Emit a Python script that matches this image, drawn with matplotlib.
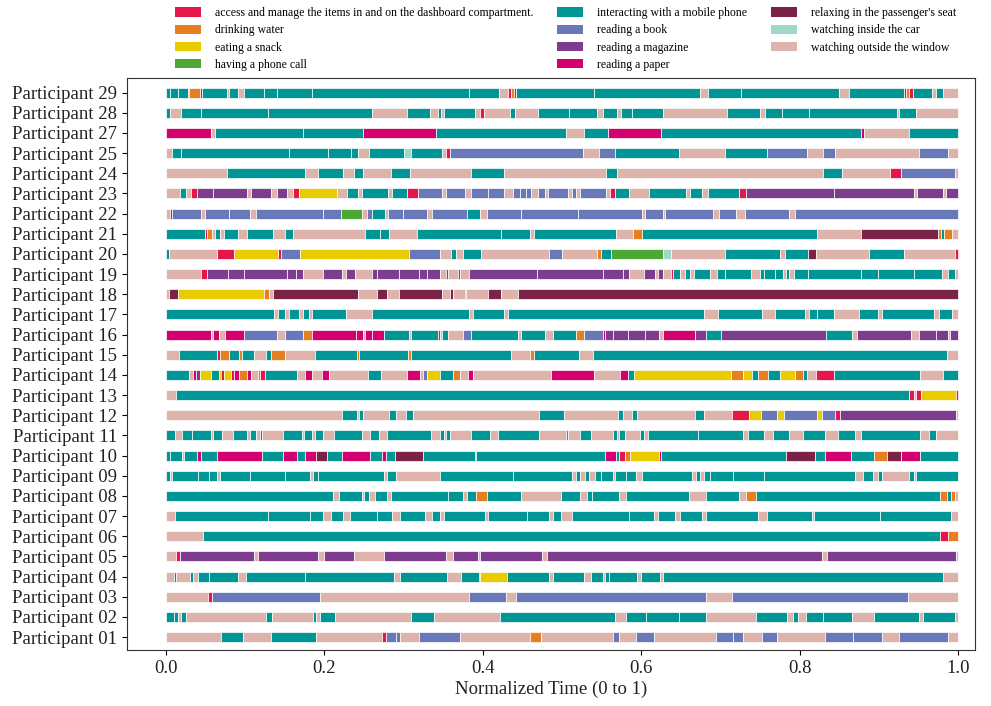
import matplotlib
matplotlib.use("Agg")
import matplotlib.pyplot as plt
from matplotlib.patches import Patch

plt.rcParams["font.family"] = ["Liberation Serif", "DejaVu Serif"]

# activity codes -> legend names, colours
codes = ["A", "D", "E", "C", "M", "B", "G", "P", "R", "I", "W"]
names = [
    "access and manage the items in and on the dashboard compartment.",
    "drinking water",
    "eating a snack",
    "having a phone call",
    "interacting with a mobile phone",
    "reading a book",
    "reading a magazine",
    "reading a paper",
    "relaxing in the passenger's seat",
    "watching inside the car",
    "watching outside the window",
]
colors = ["#E5174A", "#E67F22", "#E8CB00", "#4DA833", "#009696", "#6878B8",
          "#7C3D8E", "#D5006F", "#7A2346", "#9FD8C9", "#DDB3AB"]

# (start of segment in normalized time, activity code); each segment ends where the next starts
p29 = [(0, 'M'), (.006, 'M'), (.016, 'M'), (.028, 'A'), (.030, 'D'), (.043, 'A'), (.046, 'M'), (.077, 'W'),
       (.080, 'M'), (.091, 'W'), (.099, 'M'), (.124, 'M'), (.140, 'M'), (.184, 'M'), (.382, 'M'), (.421, 'W'),
       (.432, 'A'), (.435, 'D'), (.439, 'A'), (.442, 'M'), (.540, 'M'), (.674, 'W'), (.684, 'M'), (.726, 'M'),
       (.849, 'W'), (.862, 'M'), (.931, 'A'), (.934, 'D'), (.937, 'A'), (.942, 'M'), (.966, 'W'), (.971, 'M'),
       (.981, 'W')]
p28 = [(0, 'M'), (.005, 'W'), (.019, 'M'), (.044, 'M'), (.129, 'M'), (.260, 'W'), (.304, 'M'), (.334, 'W'),
       (.343, 'M'), (.347, 'W'), (.351, 'M'), (.390, 'W'), (.396, 'A'), (.401, 'W'), (.434, 'M'), (.440, 'W'),
       (.469, 'M'), (.509, 'M'), (.544, 'W'), (.552, 'M'), (.569, 'W'), (.574, 'M'), (.588, 'M'), (.627, 'W'),
       (.708, 'M'), (.749, 'W'), (.756, 'M'), (.778, 'M'), (.812, 'M'), (.922, 'W'), (.925, 'M'), (.947, 'W')]
p27 = [(0, 'P'), (.057, 'W'), (.062, 'M'), (.173, 'M'), (.249, 'P'), (.341, 'M'), (.505, 'W'), (.528, 'M'),
       (.558, 'P'), (.625, 'M'), (.877, 'P'), (.881, 'W'), (.938, 'M')]
p25 = [(0, 'W'), (.008, 'M'), (.019, 'M'), (.156, 'M'), (.205, 'M'), (.234, 'M'), (.242, 'W'), (.257, 'M'),
       (.301, 'I'), (.310, 'M'), (.349, 'W'), (.354, 'A'), (.359, 'B'), (.526, 'W'), (.546, 'B'), (.567, 'M'),
       (.648, 'W'), (.706, 'M'), (.758, 'B'), (.809, 'W'), (.829, 'B'), (.844, 'W'), (.950, 'B'), (.987, 'W')]
p24 = [(0, 'W'), (.077, 'M'), (.176, 'W'), (.192, 'M'), (.224, 'W'), (.238, 'M'), (.249, 'W'), (.284, 'M'),
       (.308, 'W'), (.385, 'M'), (.427, 'W'), (.556, 'M'), (.569, 'W'), (.829, 'M'), (.853, 'W'), (.914, 'A'),
       (.927, 'B'), (.995, 'W')]
p23 = [(0, 'W'), (.018, 'M'), (.026, 'W'), (.032, 'A'), (.039, 'G'), (.060, 'G'), (.103, 'W'), (.108, 'G'),
       (.133, 'W'), (.140, 'G'), (.153, 'W'), (.161, 'A'), (.168, 'E'), (.216, 'W'), (.229, 'M'), (.242, 'W'),
       (.247, 'M'), (.281, 'W'), (.286, 'M'), (.304, 'A'), (.318, 'B'), (.348, 'W'), (.354, 'B'), (.377, 'W'),
       (.385, 'B'), (.406, 'B'), (.427, 'W'), (.438, 'B'), (.447, 'B'), (.455, 'B'), (.461, 'W'), (.469, 'B'),
       (.478, 'W'), (.482, 'B'), (.507, 'W'), (.512, 'B'), (.518, 'W'), (.523, 'B'), (.556, 'W'), (.560, 'A'),
       (.567, 'M'), (.584, 'W'), (.609, 'M'), (.656, 'W'), (.661, 'M'), (.677, 'W'), (.684, 'M'), (.723, 'A'),
       (.732, 'G'), (.843, 'G'), (.944, 'W'), (.948, 'G'), (.981, 'W'), (.984, 'G')]
p22 = [(0, 'W'), (.005, 'A'), (.008, 'B'), (.045, 'W'), (.049, 'B'), (.080, 'B'), (.106, 'W'), (.114, 'B'),
       (.199, 'B'), (.221, 'C'), (.247, 'W'), (.254, 'B'), (.260, 'M'), (.276, 'W'), (.281, 'B'), (.299, 'B'),
       (.330, 'W'), (.336, 'B'), (.380, 'M'), (.397, 'W'), (.405, 'B'), (.448, 'B'), (.520, 'B'), (.601, 'W'),
       (.605, 'B'), (.627, 'W'), (.630, 'B'), (.690, 'W'), (.698, 'B'), (.719, 'W'), (.731, 'B'), (.786, 'W'),
       (.794, 'B')]
p21 = [(0, 'M'), (.049, 'A'), (.052, 'D'), (.059, 'W'), (.062, 'M'), (.069, 'W'), (.073, 'M'), (.091, 'W'),
       (.103, 'M'), (.135, 'W'), (.151, 'M'), (.160, 'W'), (.251, 'M'), (.270, 'M'), (.282, 'W'), (.317, 'M'),
       (.423, 'M'), (.460, 'W'), (.465, 'M'), (.568, 'W'), (.590, 'D'), (.601, 'M'), (.821, 'W'), (.877, 'R'),
       (.974, 'D'), (.978, 'M'), (.982, 'D'), (.992, 'W')]
p20 = [(0, 'M'), (.004, 'W'), (.065, 'A'), (.086, 'E'), (.142, 'A'), (.145, 'B'), (.169, 'E'), (.307, 'B'),
       (.346, 'W'), (.360, 'M'), (.366, 'W'), (.375, 'M'), (.398, 'W'), (.484, 'B'), (.500, 'W'), (.544, 'D'),
       (.549, 'M'), (.562, 'C'), (.627, 'I'), (.637, 'W'), (.706, 'M'), (.775, 'W'), (.781, 'M'), (.810, 'R'),
       (.820, 'W'), (.887, 'M'), (.931, 'W'), (.995, 'A')]
p19 = [(0, 'W'), (.045, 'A'), (.052, 'G'), (.079, 'G'), (.099, 'G'), (.153, 'G'), (.164, 'G'), (.173, 'W'),
       (.199, 'G'), (.223, 'W'), (.227, 'G'), (.239, 'W'), (.260, 'G'), (.266, 'G'), (.294, 'G'), (.319, 'G'),
       (.329, 'G'), (.346, 'W'), (.354, 'G'), (.356, 'W'), (.369, 'G'), (.371, 'W'), (.383, 'G'), (.468, 'G'),
       (.551, 'G'), (.577, 'G'), (.585, 'W'), (.603, 'G'), (.617, 'W'), (.621, 'G'), (.627, 'W'), (.637, 'A'),
       (.640, 'M'), (.649, 'W'), (.655, 'M'), (.661, 'W'), (.666, 'M'), (.686, 'W'), (.695, 'M'), (.705, 'M'),
       (.738, 'W'), (.749, 'M'), (.755, 'M'), (.769, 'M'), (.779, 'W'), (.783, 'M'), (.786, 'W'), (.792, 'M'),
       (.810, 'M'), (.877, 'M'), (.899, 'M'), (.944, 'M'), (.979, 'W'), (.987, 'M'), (.995, 'W')]
p18 = [(0, 'W'), (.004, 'R'), (.015, 'E'), (.124, 'D'), (.130, 'W'), (.135, 'R'), (.242, 'W'), (.267, 'R'),
       (.279, 'W'), (.294, 'R'), (.348, 'W'), (.358, 'R'), (.362, 'W'), (.377, 'R'), (.379, 'W'), (.406, 'R'),
       (.423, 'W'), (.444, 'R')]
p17 = [(0, 'M'), (.136, 'W'), (.142, 'M'), (.150, 'W'), (.155, 'M'), (.168, 'W'), (.173, 'M'), (.181, 'W'),
       (.185, 'M'), (.227, 'W'), (.260, 'M'), (.382, 'W'), (.387, 'M'), (.427, 'W'), (.432, 'M'), (.679, 'W'),
       (.697, 'M'), (.752, 'W'), (.768, 'M'), (.807, 'W'), (.812, 'M'), (.821, 'M'), (.843, 'W'), (.875, 'M'),
       (.899, 'W'), (.903, 'M'), (.969, 'W'), (.976, 'M'), (.992, 'W')]
p16 = [(0, 'P'), (.057, 'W'), (.060, 'P'), (.067, 'W'), (.075, 'P'), (.099, 'B'), (.140, 'W'), (.151, 'B'),
       (.173, 'D'), (.184, 'P'), (.240, 'P'), (.249, 'W'), (.252, 'P'), (.260, 'P'), (.275, 'M'), (.307, 'W'),
       (.310, 'M'), (.343, 'A'), (.346, 'W'), (.349, 'M'), (.356, 'W'), (.375, 'B'), (.385, 'M'), (.445, 'W'),
       (.448, 'M'), (.479, 'W'), (.489, 'M'), (.517, 'D'), (.528, 'B'), (.551, 'P'), (.554, 'G'), (.564, 'G'),
       (.583, 'G'), (.605, 'G'), (.622, 'W'), (.627, 'P'), (.668, 'G'), (.682, 'M'), (.700, 'G'), (.833, 'M'),
       (.866, 'W'), (.872, 'G'), (.940, 'W'), (.950, 'G'), (.971, 'G'), (.987, 'W'), (.989, 'G')]
p15 = [(0, 'W'), (.017, 'M'), (.065, 'A'), (.069, 'D'), (.080, 'M'), (.092, 'D'), (.096, 'M'), (.112, 'W'),
       (.127, 'M'), (.133, 'D'), (.151, 'W'), (.188, 'M'), (.241, 'D'), (.244, 'M'), (.306, 'D'), (.310, 'M'),
       (.436, 'W'), (.460, 'D'), (.464, 'M'), (.521, 'W'), (.539, 'M'), (.986, 'W')]
p14 = [(0, 'M'), (.030, 'W'), (.034, 'P'), (.038, 'G'), (.043, 'E'), (.057, 'M'), (.067, 'E'), (.070, 'A'),
       (.073, 'E'), (.083, 'A'), (.086, 'P'), (.093, 'D'), (.103, 'P'), (.107, 'W'), (.116, 'D'), (.119, 'A'),
       (.125, 'M'), (.166, 'W'), (.176, 'P'), (.185, 'W'), (.197, 'P'), (.206, 'W'), (.255, 'M'), (.271, 'W'),
       (.304, 'P'), (.321, 'W'), (.325, 'B'), (.330, 'E'), (.346, 'M'), (.362, 'D'), (.371, 'W'), (.381, 'P'),
       (.388, 'W'), (.486, 'P'), (.540, 'W'), (.573, 'P'), (.583, 'M'), (.591, 'E'), (.713, 'D'), (.728, 'E'),
       (.740, 'M'), (.747, 'D'), (.760, 'M'), (.775, 'E'), (.794, 'D'), (.804, 'M'), (.809, 'W'), (.820, 'A'),
       (.843, 'M'), (.952, 'W'), (.981, 'M')]
p13 = [(0, 'W'), (.013, 'M'), (.938, 'A'), (.944, 'W'), (.947, 'A'), (.953, 'E'), (.997, 'A')]
p12 = [(0, 'W'), (.223, 'M'), (.241, 'W'), (.244, 'M'), (.249, 'W'), (.282, 'M'), (.291, 'W'), (.303, 'M'),
       (.312, 'W'), (.471, 'M'), (.502, 'W'), (.570, 'M'), (.577, 'W'), (.588, 'M'), (.595, 'W'), (.668, 'M'),
       (.679, 'W'), (.714, 'A'), (.736, 'E'), (.751, 'B'), (.771, 'E'), (.780, 'B'), (.821, 'E'), (.828, 'B'),
       (.844, 'A'), (.851, 'G'), (.997, 'W')]
p11 = [(0, 'M'), (.012, 'W'), (.021, 'M'), (.033, 'M'), (.057, 'W'), (.060, 'M'), (.071, 'W'), (.085, 'M'),
       (.103, 'W'), (.106, 'M'), (.114, 'W'), (.119, 'M'), (.122, 'W'), (.148, 'M'), (.172, 'W'), (.174, 'M'),
       (.185, 'W'), (.188, 'M'), (.199, 'W'), (.212, 'M'), (.247, 'W'), (.258, 'M'), (.269, 'W'), (.279, 'M'),
       (.335, 'W'), (.346, 'M'), (.351, 'W'), (.354, 'M'), (.358, 'W'), (.385, 'M'), (.409, 'W'), (.419, 'M'),
       (.471, 'W'), (.505, 'B'), (.508, 'W'), (.523, 'M'), (.536, 'W'), (.564, 'M'), (.569, 'W'), (.572, 'M'),
       (.579, 'W'), (.598, 'M'), (.603, 'W'), (.608, 'M'), (.671, 'M'), (.728, 'W'), (.734, 'M'), (.755, 'W'),
       (.766, 'M'), (.786, 'W'), (.804, 'M'), (.831, 'W'), (.848, 'M'), (.870, 'W'), (.877, 'M'), (.951, 'W'),
       (.963, 'M'), (.971, 'W')]
p10 = [(0, 'M'), (.005, 'M'), (.021, 'W'), (.023, 'M'), (.039, 'P'), (.045, 'M'), (.065, 'P'), (.122, 'M'),
       (.148, 'P'), (.166, 'M'), (.176, 'P'), (.190, 'R'), (.203, 'M'), (.223, 'P'), (.258, 'M'), (.273, 'P'),
       (.278, 'M'), (.289, 'R'), (.325, 'M'), (.390, 'P'), (.392, 'M'), (.554, 'P'), (.568, 'M'), (.572, 'A'),
       (.579, 'D'), (.586, 'E'), (.622, 'P'), (.625, 'M'), (.783, 'R'), (.819, 'M'), (.831, 'P'), (.864, 'M'),
       (.894, 'D'), (.910, 'R'), (.927, 'P'), (.952, 'M')]
p09 = [(0, 'M'), (.005, 'W'), (.008, 'M'), (.041, 'M'), (.054, 'M'), (.065, 'W'), (.068, 'M'), (.106, 'M'),
       (.150, 'M'), (.182, 'W'), (.186, 'M'), (.192, 'M'), (.275, 'W'), (.279, 'M'), (.291, 'W'), (.346, 'M'),
       (.438, 'M'), (.513, 'W'), (.518, 'M'), (.523, 'W'), (.529, 'M'), (.534, 'W'), (.541, 'M'), (.549, 'M'),
       (.564, 'W'), (.567, 'M'), (.580, 'M'), (.593, 'W'), (.601, 'M'), (.664, 'W'), (.669, 'M'), (.674, 'W'),
       (.679, 'M'), (.687, 'M'), (.716, 'M'), (.755, 'M'), (.870, 'W'), (.880, 'M'), (.892, 'W'), (.898, 'M'),
       (.903, 'W'), (.937, 'M'), (.944, 'W'), (.947, 'M')]
p08 = [(0, 'M'), (.211, 'W'), (.218, 'M'), (.247, 'W'), (.250, 'M'), (.257, 'W'), (.264, 'M'), (.279, 'W'),
       (.284, 'M'), (.356, 'M'), (.375, 'W'), (.380, 'M'), (.392, 'D'), (.405, 'M'), (.448, 'W'), (.499, 'M'),
       (.523, 'W'), (.531, 'M'), (.538, 'M'), (.572, 'W'), (.580, 'M'), (.660, 'W'), (.681, 'M'), (.723, 'W'),
       (.732, 'D'), (.744, 'M'), (.977, 'D'), (.986, 'M'), (.990, 'D'), (.995, 'W')]
p07 = [(0, 'W'), (.012, 'M'), (.129, 'M'), (.182, 'M'), (.199, 'W'), (.208, 'M'), (.224, 'W'), (.232, 'M'),
       (.266, 'M'), (.286, 'W'), (.296, 'M'), (.327, 'W'), (.336, 'M'), (.346, 'W'), (.351, 'M'), (.403, 'W'),
       (.406, 'M'), (.456, 'M'), (.484, 'W'), (.488, 'M'), (.499, 'W'), (.512, 'M'), (.585, 'M'), (.616, 'W'),
       (.621, 'M'), (.643, 'W'), (.649, 'M'), (.677, 'W'), (.682, 'M'), (.747, 'W'), (.758, 'M'), (.815, 'W'),
       (.818, 'M'), (.901, 'M'), (.991, 'W')]
p06 = [(0, 'W'), (.047, 'M'), (.977, 'A'), (.987, 'D')]
p05 = [(0, 'W'), (.013, 'A'), (.018, 'G'), (.111, 'W'), (.117, 'G'), (.192, 'W'), (.200, 'G'), (.238, 'W'),
       (.275, 'G'), (.354, 'W'), (.362, 'G'), (.394, 'W'), (.397, 'G'), (.475, 'W'), (.481, 'G'), (.828, 'W'),
       (.834, 'G'), (.997, 'W')]
p04 = [(0, 'W'), (.010, 'M'), (.013, 'W'), (.031, 'M'), (.034, 'W'), (.041, 'M'), (.054, 'M'), (.091, 'W'),
       (.101, 'M'), (.176, 'M'), (.288, 'W'), (.295, 'M'), (.355, 'W'), (.372, 'M'), (.395, 'A'), (.397, 'E'),
       (.431, 'M'), (.484, 'W'), (.488, 'M'), (.528, 'W'), (.536, 'M'), (.551, 'W'), (.554, 'M'), (.559, 'M'),
       (.594, 'W'), (.599, 'M'), (.623, 'W'), (.627, 'M'), (.981, 'W')]
p03 = [(0, 'W'), (.053, 'A'), (.059, 'B'), (.195, 'W'), (.383, 'B'), (.429, 'W'), (.442, 'B'), (.682, 'W'),
       (.714, 'B'), (.936, 'W')]
p02 = [(0, 'M'), (.010, 'M'), (.015, 'W'), (.019, 'M'), (.025, 'W'), (.127, 'M'), (.134, 'W'), (.186, 'M'),
       (.189, 'W'), (.195, 'M'), (.214, 'W'), (.309, 'M'), (.338, 'W'), (.422, 'M'), (.567, 'W'), (.580, 'M'),
       (.606, 'M'), (.647, 'M'), (.681, 'W'), (.744, 'M'), (.784, 'W'), (.791, 'M'), (.797, 'W'), (.808, 'M'),
       (.829, 'M'), (.866, 'W'), (.894, 'M'), (.950, 'W'), (.955, 'M'), (.995, 'W')]
p01 = [(0, 'W'), (.070, 'M'), (.098, 'W'), (.133, 'M'), (.190, 'W'), (.273, 'A'), (.278, 'B'), (.291, 'B'),
       (.295, 'W'), (.319, 'B'), (.371, 'W'), (.460, 'D'), (.473, 'W'), (.564, 'B'), (.572, 'W'), (.593, 'B'),
       (.616, 'W'), (.694, 'B'), (.716, 'B'), (.728, 'W'), (.752, 'B'), (.771, 'W'), (.832, 'B'), (.867, 'B'),
       (.903, 'W'), (.925, 'B'), (.987, 'W')]

labels = ["Participant 01", "Participant 02", "Participant 03", "Participant 04", "Participant 05",
          "Participant 06", "Participant 07", "Participant 08", "Participant 09", "Participant 10",
          "Participant 11", "Participant 12", "Participant 13", "Participant 14", "Participant 15",
          "Participant 16", "Participant 17", "Participant 18", "Participant 19", "Participant 20",
          "Participant 21", "Participant 22", "Participant 23", "Participant 24", "Participant 25",
          "Participant 27", "Participant 28", "Participant 29"]
rows = [p01, p02, p03, p04, p05, p06, p07, p08, p09, p10, p11, p12, p13, p14, p15,
        p16, p17, p18, p19, p20, p21, p22, p23, p24, p25, p27, p28, p29]

color_of = dict(zip(codes, colors))

fig = plt.figure(figsize=(9.91, 7.06), dpi=100)
ax = fig.add_axes([0.128, 0.079, 0.856, 0.811])

for i, segs in enumerate(rows):
    starts = [s for s, _ in segs]
    ends = starts[1:] + [1.0]
    widths = [e - s for s, e in zip(starts, ends)]
    cols = [color_of[a] for _, a in segs]
    ax.barh([i] * len(segs), widths, left=starts, height=0.5, color=cols,
            edgecolor="white", linewidth=0.5)

for sp in ax.spines.values():
    sp.set_color("#333333")

ax.set_xlim(-0.049, 1.021)
ax.set_ylim(-0.65, len(rows) - 1 + 0.74)
ax.set_yticks(range(len(rows)))
ax.set_yticklabels(labels, fontsize=13.5, color="#222222")
ax.set_xticks([0, 0.2, 0.4, 0.6, 0.8, 1.0])
ax.set_xticklabels(["0.0", "0.2", "0.4", "0.6", "0.8", "1.0"], fontsize=13.5, color="#222222")
ax.set_xlabel("Normalized Time (0 to 1)", fontsize=13.5, color="#222222", labelpad=3)

handles = [Patch(facecolor=c, label=n) for c, n in zip(colors, names)]
fig.legend(handles=handles, loc="upper center", bbox_to_anchor=(0.571, 1.005), ncol=3,
           frameon=False, fontsize=8.5, labelspacing=0.45, handlelength=2.2,
           handleheight=0.8, handletextpad=1.2, columnspacing=2.0)

fig.savefig("out.png", dpi=100)
